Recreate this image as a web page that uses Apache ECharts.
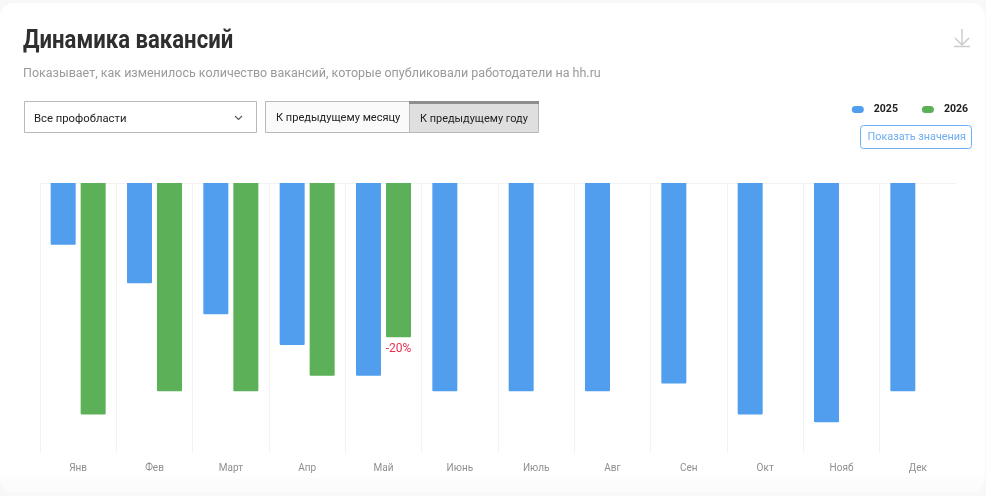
<!DOCTYPE html>
<html><head><meta charset="utf-8">
<style>html,body{margin:0;padding:0;background:#f8f8f8}#c{width:986px;height:496px}</style>
<script src="https://cdn.jsdelivr.net/npm/echarts@6/dist/echarts.min.js"></script>
</head><body><div id="c"></div>
<script>
const months=['Янв','Фев','Март','Апр','Май','Июнь','Июль','Авг','Сен','Окт','Нояб','Дек'];
const values2025=[-8,-13,-17,-21,-25,-27,-27,-27,-26,-30,-31,-27];
const values2026=[-30,-27,-27,-25,-20,null,null,null,null,null,null,null];
const labelled2026=4;
const F='Roboto, "Liberation Sans", sans-serif';
const chart=echarts.init(document.getElementById('c'),null,{renderer:'canvas'});
function txt(x,y,t,size,color,extra){return {type:'text',x,y,silent:true,z:5,style:Object.assign({text:t,fontSize:size,fill:color,fontFamily:F,verticalAlign:'middle'},extra||{})};}
function rect(x,y,w,h,fill,stroke,r){return {type:'rect',silent:true,z:3,shape:{x,y,width:w,height:h,r:r||0},style:{fill,stroke:stroke||null,lineWidth:1}};}
const titleEl=txt(23,42,'Динамика вакансий',25,'#2f2f2f',{fontWeight:700});
titleEl.scaleX=0.885;
chart.setOption({
 animation:false,
 backgroundColor:'#f8f8f8',
 legend:{data:['2025','2026'],right:13,top:99,itemWidth:12,itemHeight:7,itemGap:24,icon:'path://M3.5,0 H8.5 A3.5,3.5 0 0 1 8.5,7 H3.5 A3.5,3.5 0 0 1 3.5,0 Z',itemStyle:{borderWidth:0},textStyle:{fontSize:10.5,fontWeight:700,color:'#222',fontFamily:F,padding:[0,0,0,5]}},
 grid:{left:40,right:30,top:183,bottom:43,containLabel:false},
 xAxis:[
  {type:'category',data:months,position:'top',axisLine:{show:true,lineStyle:{color:'#f2f2f2'}},axisTick:{show:false},axisLabel:{show:false},splitLine:{show:true,showMaxLine:false,lineStyle:{color:'#f2f2f2',width:1}}},
  {type:'category',data:months,position:'bottom',axisLine:{show:false},axisTick:{show:false},axisLabel:{show:true,margin:10,fontSize:10,color:'#8f8f8f',fontFamily:F,interval:0},splitLine:{show:false}}
 ],
 yAxis:{type:'value',min:-35,max:0,interval:35,show:false,splitLine:{show:false}},
 series:[
  {name:'2025',type:'bar',xAxisIndex:0,data:values2025,barWidth:25,barGap:'20%',itemStyle:{color:'#519eee',borderRadius:[0,0,1,1]}},
  {name:'2026',type:'bar',xAxisIndex:0,data:values2026.map((v,i)=>i===labelled2026?{value:v,label:{show:true,position:'bottom',distance:6,formatter:'-20%',fontSize:12,color:'#e8304f',fontFamily:F}}:v),barWidth:25,itemStyle:{color:'#5cb158',borderRadius:[0,0,1,1]}}
 ],
 color:['#519eee','#5cb158'],
 graphic:[
  {type:'rect',silent:true,z:-1,zlevel:0,shape:{x:0,y:3,width:985,height:489,r:14},style:{fill:{type:'linear',x:0,y:0,x2:0,y2:1,colorStops:[{offset:0,color:'#fff'},{offset:0.965,color:'#fff'},{offset:0.975,color:'#fcfcfc'},{offset:1,color:'#fcfcfc'}]}}},
  titleEl,
  txt(23,73.5,'Показывает, как изменилось количество вакансий, которые опубликовали работодатели на hh.ru',12.5,'#9a9a9a'),
  rect(24.5,101.5,232,31,'#fff','#b9b9bd'),
  txt(34,119,'Все профобласти',11.3,'#222'),
  {type:'polyline',silent:true,z:5,shape:{points:[[235,116],[238.5,119.5],[242,116]]},style:{stroke:'#555',fill:null,lineWidth:1.1}},
  rect(265.5,101.5,144,31,'#fafafa','#b9b9bd'),
  rect(409.5,101.5,129,31,'#dfdfdf','#b9b9bd'),
  rect(409,101,130,3,'#8e8e8e'),
  txt(276,118,'К предыдущему месяцу',11.05,'#222'),
  txt(420,119,'К предыдущему году',10.95,'#222'),
  rect(860.5,125.5,111,23,'#fff','#6cb0f2',3),
  txt(867.5,137,'Показать значения',10.85,'#6eaef0'),
  {type:'polyline',silent:true,z:5,shape:{points:[[962,29],[962,45]]},style:{stroke:'#ccc',fill:null,lineWidth:1.5}},
  {type:'polyline',silent:true,z:5,shape:{points:[[955,38],[962,45],[969,38]]},style:{stroke:'#ccc',fill:null,lineWidth:1.5}},
  {type:'polyline',silent:true,z:5,shape:{points:[[954,46.5],[970,46.5]]},style:{stroke:'#ccc',fill:null,lineWidth:1.5}}
 ]
});
</script></body></html>
